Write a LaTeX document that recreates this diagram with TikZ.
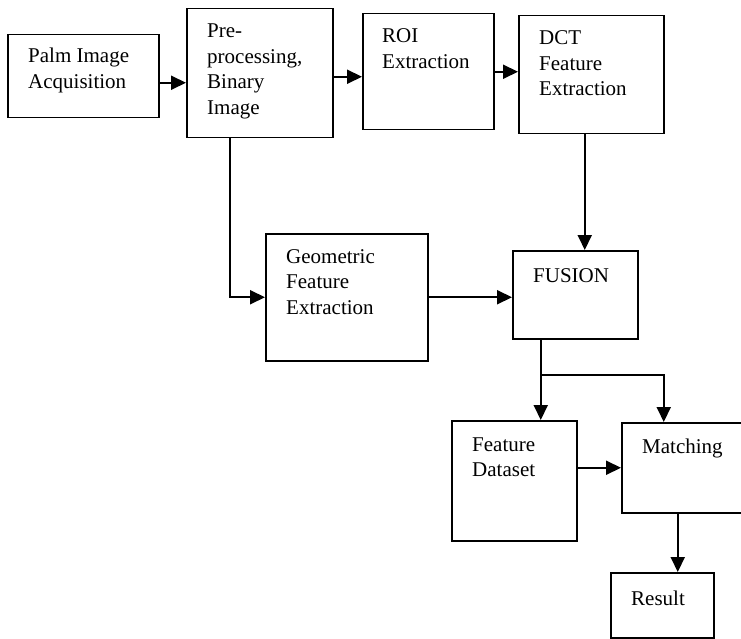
\documentclass[tikz,border=0pt]{standalone}
\usepackage{fontspec}
\setmainfont{Liberation Serif}
\usetikzlibrary{arrows.meta}
\newcommand{\mlines}[1]{\begin{tabular}[t]{@{}l@{}}#1\end{tabular}}
\tikzset{
  box/.style={draw, line width=1.5pt, rectangle, inner sep=0pt, anchor=north west},
  txt/.style={anchor=base west, inner sep=0pt},
  arr/.style={line width=2pt, -{Triangle[length=15pt,width=14pt]}},
  ln/.style={line width=2pt}
}
\begin{document}
\begin{tikzpicture}[x=1pt, y=-1pt, font=\fontsize{21pt}{25.5pt}\selectfont]
\useasboundingbox (0,0) rectangle (741,639);
\clip (0,0) rectangle (741,639);
% boxes
\node[box, minimum width=151pt, minimum height=83pt]  (palm)   at (7,34)   {};
\node[box, minimum width=146pt, minimum height=129pt] (pre)    at (186,8)  {};
\node[box, minimum width=131pt, minimum height=116pt] (roi)    at (362,13) {};
\node[box, minimum width=145pt, minimum height=118pt] (dct)    at (518,15) {};
\node[box, minimum width=162pt, minimum height=127pt] (geo)    at (265,233) {};
\node[box, minimum width=125pt, minimum height=88pt]  (fusion) at (512,250) {};
\node[box, minimum width=125pt, minimum height=120pt] (fd)     at (451,420) {};
\node[box, minimum width=129pt, minimum height=90pt]  (match)  at (621,422) {};
\node[box, minimum width=103pt, minimum height=65pt]  (result) at (610,572) {};
% texts
\node[txt] (palmT)   at (28,63)   {\mlines{Palm Image\\Acquisition}};
\node[txt] (preT)    at (207,38)  {\mlines{Pre-\\processing,\\Binary\\Image}};
\node[txt] (roiT)    at (382,43)  {\mlines{ROI\\Extraction}};
\node[txt] (dctT)    at (539,45)  {\mlines{DCT\\Feature\\Extraction}};
\node[txt] (geoT)    at (286,263) {\mlines{Geometric\\Feature\\Extraction}};
\node[txt] (fusionT) at (533,282) {FUSION};
\node[txt] (fdT)     at (472,451) {\mlines{Feature\\Dataset}};
\node[txt] (matchT)  at (642,453) {Matching};
\node[txt] (resultT) at (631,605) {Result};
% connectors
\draw[arr] ([yshift=-6.5pt]palm.east) -- ([yshift=-6.5pt]palm.east -| pre.west);
\draw[arr] ([yshift=-3.5pt]pre.east) -- ([yshift=-3.5pt]pre.east -| roi.west);
\draw[arr] (roi.east) -- (roi.east -| dct.west);
\draw[arr] ([xshift=-30pt]pre.south) |- (geo.west);
\draw[arr] (geo.east) -- (geo.east -| fusion.west);
\draw[arr] ([xshift=-6.5pt]dct.south) -- ([xshift=-6.5pt]dct.south |- fusion.north);
\draw[arr] ([xshift=-34.5pt]fusion.south) -- ([xshift=-34.5pt]fusion.south |- fd.north);
\coordinate (br) at ([xshift=-34.5pt, yshift=-35pt]fusion.south);
\draw[arr] (br) -| ([xshift=-22.5pt]match.north);
\draw[arr] ([yshift=13pt]fd.east) -- ([yshift=13pt]fd.east -| match.west);
\draw[arr] ([xshift=-8.5pt]match.south) -- ([xshift=-8.5pt]match.south |- result.north);
\end{tikzpicture}
\end{document}
